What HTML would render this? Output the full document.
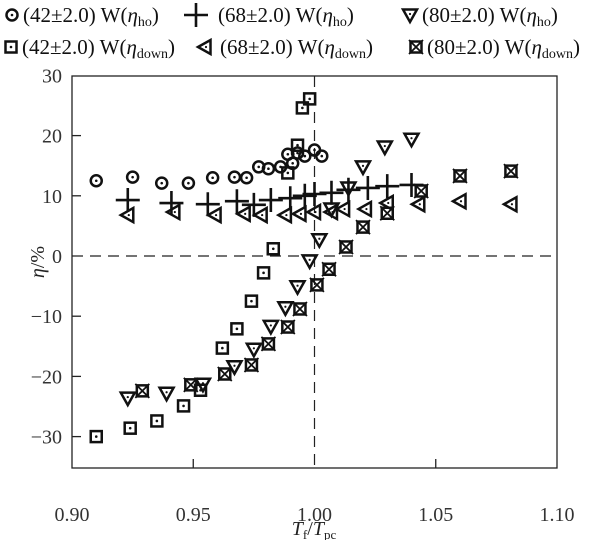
<!DOCTYPE html>
<html><head><meta charset="utf-8"><style>
html,body{margin:0;padding:0;background:#fff;}
svg{display:block;font-family:"Liberation Serif",serif;}
</style></head><body>
<svg id="chart" width="600" height="540" viewBox="0 0 600 540" xmlns="http://www.w3.org/2000/svg">
<g id="legend" font-size="21" fill="#111"></g>
<g id="axes"></g>
<g id="marks"></g>
</svg>
<script>
const xTicks=[0.90,0.95,1.00,1.05,1.10];
const xTickLabels=["0.90","0.95","1.00","1.05","1.10"];
const yTicks=[30,20,10,0,-10,-20,-30];
const yTickLabels=["30","20","10","0","\u221210","\u221220","\u221230"];
const circHoX=[0.910,0.925,0.937,0.948,0.958,0.967,0.972,0.977,0.981,0.986,0.989,0.991,0.993,0.996,1.000,1.003];
const circHoY=[12.5,13.1,12.1,12.1,13.0,13.1,13.0,14.8,14.5,14.8,16.9,15.4,17.1,16.6,17.6,16.6];
const plusHoX=[0.923,0.941,0.956,0.968,0.975,0.982,0.990,0.996,1.000,1.007,1.014,1.022,1.030,1.040];
const plusHoY=[9.3,8.8,8.6,9.1,8.5,9.3,9.6,10.0,10.3,10.5,11.0,11.3,11.6,11.8];
const triHoX=[0.923,0.939,0.954,0.967,0.975,0.982,0.988,0.993,0.998,1.002,1.007,1.014,1.020,1.029,1.040];
const triHoY=[-23.6,-22.8,-21.3,-18.4,-15.5,-11.7,-8.6,-5.1,-0.8,2.7,7.8,11.3,14.8,18.1,19.4];
const sqDnX=[0.910,0.924,0.935,0.946,0.953,0.962,0.968,0.974,0.979,0.983,0.989,0.993,0.995,0.998];
const sqDnY=[-30.0,-28.6,-27.4,-24.9,-22.3,-15.3,-12.1,-7.5,-2.8,1.2,13.8,18.4,24.6,26.1];
const ltDnX=[0.923,0.942,0.959,0.971,0.978,0.988,0.994,1.000,1.007,1.012,1.021,1.030,1.043,1.060,1.081];
const ltDnY=[6.8,7.3,6.8,7.0,6.8,6.8,7.0,7.3,7.3,7.8,7.8,8.8,8.6,9.1,8.6];
const xsqDnX=[0.929,0.949,0.963,0.974,0.981,0.989,0.994,1.001,1.006,1.013,1.020,1.030,1.044,1.060,1.081];
const xsqDnY=[-22.4,-21.4,-19.6,-18.1,-14.6,-11.8,-8.8,-4.8,-2.2,1.5,4.8,7.1,10.8,13.3,14.1];

const L=72,R=557,T=76,B=468;
const sx=v=>L+(v-0.90)/0.20*(R-L);
const sy=v=>256-v*6.02;
const NS="http://www.w3.org/2000/svg";
function mk(tag,attrs,parent){const e=document.createElementNS(NS,tag);for(const k in attrs)e.setAttribute(k,attrs[k]);parent.appendChild(e);return e;}
const axes=document.getElementById('axes'),marks=document.getElementById('marks'),legend=document.getElementById('legend');

const frame=mk('rect',{x:L,y:T,width:R-L,height:B-T,fill:'none',stroke:'#222','stroke-width':1.3},axes);

const hz=mk('line',{x1:L,x2:R,y1:sy(0),y2:sy(0),stroke:'#222','stroke-width':1.2,'stroke-dasharray':'11,7'},axes);

const vt=mk('line',{x1:sx(1.0),x2:sx(1.0),y1:T,y2:B,stroke:'#222','stroke-width':1.2,'stroke-dasharray':'11,7'},axes);


xTicks.forEach((t,i)=>{
  if(i>0&&i<xTicks.length-1&&t!==1.0){const tk=mk('line',{x1:sx(t),x2:sx(t),y1:B,y2:B-9,stroke:'#222','stroke-width':1.3},axes);
  }
  const tx=mk('text',{x:sx(t),y:521,'text-anchor':'middle','font-size':20,fill:'#333'},axes);tx.textContent=xTickLabels[i];
  
});
yTicks.forEach((t,i)=>{
  if(t!==30&&t!==0){const tk=mk('line',{x1:L,x2:L+9,y1:sy(t),y2:sy(t),stroke:'#222','stroke-width':1.3},axes);
  }
  const tx=mk('text',{x:62,y:sy(t)+7,'text-anchor':'end','font-size':20,fill:'#333'},axes);tx.textContent=yTickLabels[i];
  
});
const xt=mk('text',{x:314,y:535,'text-anchor':'middle','font-size':20,fill:'#222'},axes);
xt.innerHTML='<tspan font-style="italic">T</tspan><tspan font-size="13" dy="4">f</tspan><tspan dy="-4">/</tspan><tspan font-style="italic">T</tspan><tspan font-size="13" dy="4">pc</tspan>';

const yt=mk('text',{x:0,y:0,'text-anchor':'middle','font-size':20,fill:'#222',transform:'translate(44,262) rotate(-90)'},axes);
yt.innerHTML='<tspan font-style="italic">η</tspan>/%';


function marker(type,cx,cy,g){
  const s='#111',w=2.5;
  if(type==='circle'){mk('circle',{cx,cy,r:5.5,fill:'none',stroke:s,'stroke-width':w},g);mk('circle',{cx,cy,r:1.3,fill:s},g);}
  else if(type==='plus'){mk('path',{d:`M${cx-12} ${cy}H${cx+12}M${cx} ${cy-12}V${cy+12}`,stroke:s,'stroke-width':2.6},g);}
  else if(type==='tri'){mk('path',{d:`M${cx-7} ${cy-5.5}H${cx+7}L${cx} ${cy+7}Z`,fill:'none',stroke:s,'stroke-width':w,'stroke-linejoin':'miter'},g);mk('circle',{cx,cy:cy-1,r:1.1,fill:s},g);}
  else if(type==='square'){mk('rect',{x:cx-5.5,y:cy-5.5,width:11,height:11,fill:'none',stroke:s,'stroke-width':w},g);mk('circle',{cx,cy,r:1.3,fill:s},g);}
  else if(type==='left'){mk('path',{d:`M${cx-7} ${cy}L${cx+5.5} ${cy-7}V${cy+7}Z`,fill:'none',stroke:s,'stroke-width':w},g);mk('circle',{cx:cx+1,cy,r:1.1,fill:s},g);}
  else if(type==='xsq'){mk('rect',{x:cx-5.5,y:cy-5.5,width:11,height:11,fill:'none',stroke:s,'stroke-width':w},g);mk('path',{d:`M${cx-7} ${cy-7}L${cx+7} ${cy+7}M${cx+7} ${cy-7}L${cx-7} ${cy+7}`,stroke:s,'stroke-width':1.8},g);}
}
const series=[
  {type:'circle',xs:circHoX,ys:circHoY,name:'series-42w-ho'},
  {type:'plus',xs:plusHoX,ys:plusHoY,name:'series-68w-ho'},
  {type:'tri',xs:triHoX,ys:triHoY,name:'series-80w-ho'},
  {type:'square',xs:sqDnX,ys:sqDnY,name:'series-42w-down'},
  {type:'left',xs:ltDnX,ys:ltDnY,name:'series-68w-down'},
  {type:'xsq',xs:xsqDnX,ys:xsqDnY,name:'series-80w-down'}
];
series.forEach(sr=>{
  const g=mk('g',{},marks);
  
  
  sr.xs.forEach((x,i)=>{
    const p=mk('g',{},g);
    
    
    marker(sr.type,sx(x),sy(sr.ys[i]),p);
  });
});
const legItems=[
  {type:'circle',mx:12,my:15,tx:23,sub:'ho',pre:'(42±2.0) W('},
  {type:'plus',mx:196,my:15,tx:218,sub:'ho',pre:'(68±2.0) W('},
  {type:'tri',mx:410,my:15,tx:422,sub:'ho',pre:'(80±2.0) W('},
  {type:'square',mx:11,my:47,tx:22,sub:'down',pre:'(42±2.0) W('},
  {type:'left',mx:205,my:47,tx:220,sub:'down',pre:'(68±2.0) W('},
  {type:'xsq',mx:416,my:47,tx:427,sub:'down',pre:'(80±2.0) W('}
];
legItems.forEach(it=>{
  const g=mk('g',{},legend);
  
  
  marker(it.type,it.mx,it.my,g);
  const t=mk('text',{x:it.tx,y:it.my+7},g);
  t.innerHTML=it.pre+'<tspan font-style="italic">η</tspan><tspan font-size="14" dy="4">'+it.sub+'</tspan><tspan dy="-4">)</tspan>';
});
</script>
</body></html>
